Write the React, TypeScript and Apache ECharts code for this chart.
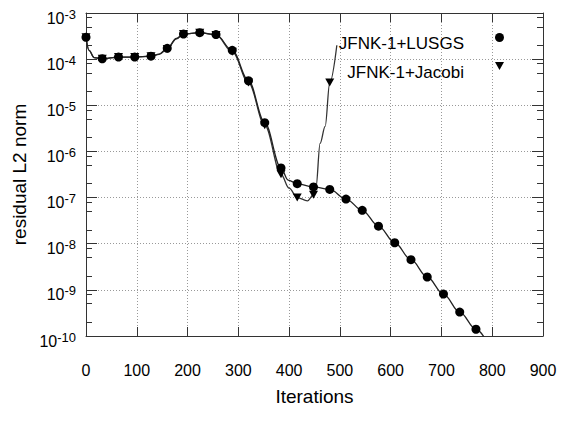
import React, { useEffect, useRef } from 'react';
import * as echarts from 'echarts';

// ---- data ----
const lusgsIter = [0, 6, 16, 32, 64, 96, 128, 144, 160, 178, 192, 224, 256, 288, 320, 352, 384, 398, 416, 448, 480, 512, 544, 576, 608, 640, 672, 704, 736, 768, 784];
const lusgsResidual = [2.97e-4, 1.55e-4, 1.08e-4, 1.02e-4, 1.11e-4, 1.11e-4, 1.16e-4, 1.29e-4, 1.72e-4, 2.8e-4, 3.5e-4, 3.74e-4, 3.4e-4, 1.55e-4, 3.4e-5, 4.2e-6, 4.4e-7, 2.4e-7, 2.0e-7, 1.7e-7, 1.5e-7, 9.3e-8, 5.3e-8, 2.4e-8, 1.05e-8, 4.5e-9, 1.9e-9, 8.1e-10, 3.3e-10, 1.4e-10, 9.5e-11];

const jacobiIter = [0, 6, 16, 32, 64, 96, 128, 144, 160, 178, 192, 224, 256, 288, 320, 352, 384, 400, 416, 436, 448, 453, 461, 471, 480, 494];
const jacobiResidual = [2.97e-4, 1.55e-4, 1.08e-4, 1.02e-4, 1.11e-4, 1.11e-4, 1.16e-4, 1.27e-4, 1.65e-4, 2.75e-4, 3.5e-4, 3.74e-4, 3.35e-4, 1.45e-4, 3.1e-5, 3.7e-6, 3.2e-7, 1.6e-7, 1.0e-7, 8.5e-8, 1.15e-7, 1.7e-7, 1.5e-6, 3.5e-6, 3.1e-5, 2.0e-4];

const markerEvery = 32;
const lusgsLastMarker = 768;
const jacobiLastMarker = 480;

const seriesNames = ['JFNK-1+LUSGS', 'JFNK-1+Jacobi'];
const xMin = 0;
const xMax = 900;
const xStep = 100;
const yMin = 1e-10;
const yMax = 1e-3;
const minorMultipliers = [2, 5, 8];
const xTitle = 'Iterations';
const yTitle = 'residual L2 norm';

const FONT = '"Liberation Sans", Arial, Helvetica, sans-serif';
const TRI = 'path://M0,0L10,0L5,9Z';
// legend icons: visible glyph on top, an invisible anchor point below, so the icon sits above the text centre
const LEGEND_CIRCLE = 'path://M0,4.5A4.5,4.5,0,1,1,9,4.5A4.5,4.5,0,1,1,0,4.5Z M4.5,21';
const LEGEND_TRI = 'path://M0,0L9,0L4.5,8Z M4.5,21';
const AXIS_COLOR = '#333';

function buildData(iters: number[], vals: number[], last: number) {
  return iters.map((x, i) => {
    const marked = x % markerEvery === 0 && x <= last;
    return marked ? { value: [x, vals[i]] } : { value: [x, vals[i]], symbol: 'none' };
  });
}

function minorValues(): number[] {
  const out: number[] = [];
  const lo = Math.round(Math.log10(yMin));
  const hi = Math.round(Math.log10(yMax));
  for (let k = lo; k < hi; k++) {
    for (const m of minorMultipliers) out.push(m * Math.pow(10, k));
  }
  return out;
}

export default function App() {
  const ref = useRef<HTMLDivElement>(null);
  useEffect(() => {
    if (!ref.current) return;
    const chart = echarts.init(ref.current, undefined, { renderer: 'svg' });
    const minors = minorValues();
    const baseY = {
      type: 'log' as const,
      logBase: 10,
      min: yMin,
      max: yMax,
      interval: 1,
    };
    const option: any = {
      animation: false,
      backgroundColor: '#fff',
      textStyle: { fontFamily: FONT },
      grid: { left: 86, right: 20, top: 13, bottom: 87, containLabel: false },
      legend: {
        orient: 'vertical',
        right: 54,
        top: 28,
        align: 'right',
        itemWidth: 9,
        itemHeight: 21,
        itemGap: 8,
        selectedMode: false,
        data: [
          { name: seriesNames[0], icon: LEGEND_CIRCLE },
          { name: seriesNames[1], icon: LEGEND_TRI },
        ],
        textStyle: {
          fontFamily: FONT,
          fontSize: 17,
          color: '#000',
          lineHeight: 21,
          padding: [0, 26, 0, 0],
        },
      },
      xAxis: [
        {
          type: 'value',
          min: xMin,
          max: xMax,
          interval: xStep,
          position: 'bottom',
          name: xTitle,
          nameLocation: 'middle',
          nameGap: 51,
          nameTextStyle: { fontFamily: FONT, fontSize: 19, color: '#000' },
          axisLine: { show: true, lineStyle: { color: AXIS_COLOR, width: 1 } },
          axisTick: { show: true, inside: true, length: 9, lineStyle: { color: AXIS_COLOR } },
          axisLabel: { fontFamily: FONT, fontSize: 16, color: '#000', margin: 26 },
          splitLine: { show: true, lineStyle: { color: '#999', type: [1, 2], width: 1 } },
        },
        {
          type: 'value',
          min: xMin,
          max: xMax,
          interval: xStep,
          position: 'top',
          axisLine: { show: true, lineStyle: { color: AXIS_COLOR, width: 1 } },
          axisTick: { show: true, inside: true, length: 9, lineStyle: { color: AXIS_COLOR } },
          axisLabel: { show: false },
          splitLine: { show: false },
        },
      ],
      yAxis: [
        {
          ...baseY,
          position: 'left',
          name: yTitle,
          nameLocation: 'middle',
          nameGap: 55,
          nameRotate: 90,
          nameTextStyle: { fontFamily: FONT, fontSize: 19, color: '#000' },
          axisLine: { show: true, lineStyle: { color: AXIS_COLOR, width: 1 } },
          axisTick: { show: true, inside: true, length: 11, lineStyle: { color: AXIS_COLOR } },
          axisLabel: {
            margin: 10,
            padding: [10, 0, 0, 0],
            formatter: (v: number) => `{b|10}{s|${Math.round(Math.log10(v))}}`,
            rich: {
              b: { fontFamily: FONT, fontSize: 16, color: '#000' },
              s: { fontFamily: FONT, fontSize: 13, color: '#000', padding: [0, 0, 8, 0] },
            },
          },
          splitLine: { show: true, lineStyle: { color: '#999', type: [1, 2], width: 1 } },
        },
        {
          ...baseY,
          position: 'left',
          axisLine: { show: false },
          axisTick: { show: true, inside: true, length: 6, customValues: minors, lineStyle: { color: AXIS_COLOR } },
          axisLabel: { show: false },
          splitLine: { show: false },
        },
        {
          ...baseY,
          position: 'right',
          axisLine: { show: true, lineStyle: { color: AXIS_COLOR, width: 1 } },
          axisTick: { show: true, inside: true, length: 11, lineStyle: { color: AXIS_COLOR } },
          axisLabel: { show: false },
          splitLine: { show: false },
        },
        {
          ...baseY,
          position: 'right',
          axisLine: { show: false },
          axisTick: { show: true, inside: true, length: 6, customValues: minors, lineStyle: { color: AXIS_COLOR } },
          axisLabel: { show: false },
          splitLine: { show: false },
        },
      ],
      series: [
        {
          name: seriesNames[1],
          type: 'line',
          xAxisIndex: 0,
          yAxisIndex: 0,
          data: buildData(jacobiIter, jacobiResidual, jacobiLastMarker),
          smooth: 0.35,
          smoothMonotone: 'x',
          symbol: TRI,
          symbolSize: [9, 8],
          showSymbol: true,
          showAllSymbol: true,
          lineStyle: { color: '#333', width: 1.3 },
          itemStyle: { color: '#000' },
          z: 2,
          clip: true,
        },
        {
          name: seriesNames[0],
          type: 'line',
          xAxisIndex: 0,
          yAxisIndex: 0,
          data: buildData(lusgsIter, lusgsResidual, lusgsLastMarker),
          smooth: 0.35,
          smoothMonotone: 'x',
          symbol: 'circle',
          symbolSize: 9,
          showSymbol: true,
          showAllSymbol: true,
          lineStyle: { color: '#222', width: 1.3 },
          itemStyle: { color: '#000' },
          z: 3,
          clip: true,
        },
      ],
    };
    chart.setOption(option);
    return () => chart.dispose();
  }, []);
  return <div ref={ref} style={{ position: 'absolute', left: 0, top: 0, width: 563, height: 423 }} />;
}
